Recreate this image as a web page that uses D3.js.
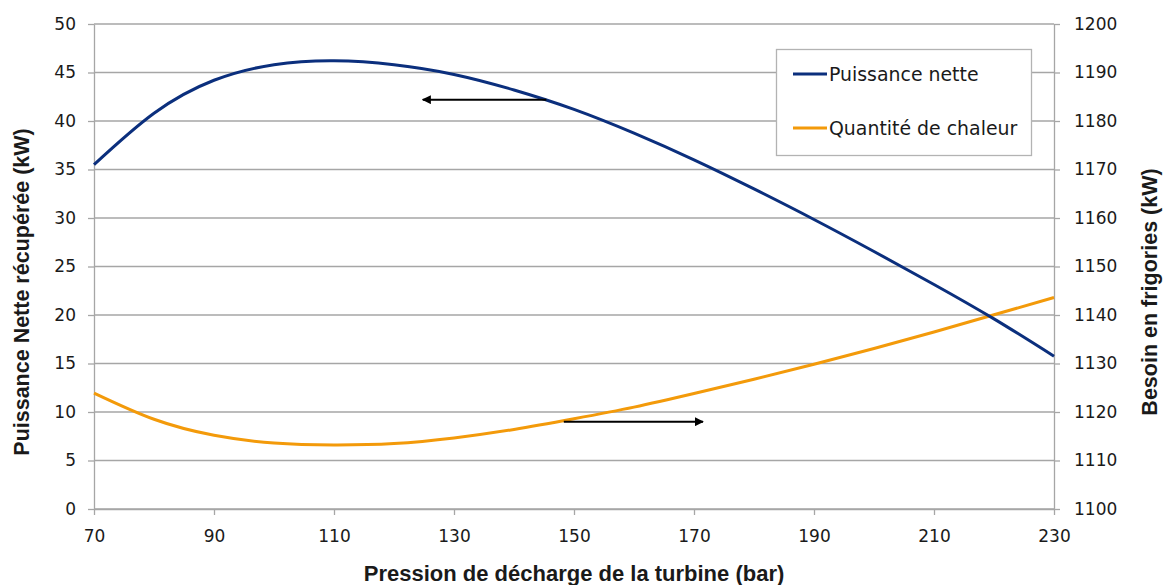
<!DOCTYPE html>
<html><head><meta charset="utf-8">
<script src="https://cdn.jsdelivr.net/npm/d3@7"></script>
<style>body{margin:0;background:#fff}svg{display:block}</style>
</head><body>
<svg id="c" width="1168" height="585"></svg>
<script>
const pressure = [70,80,90,100,110,120,130,140,150,160,170,180,190,200,210,220,230];
const puissanceNette = [35.5,40.8,44.2,45.8,46.2,45.8,44.8,43.2,41.2,38.75,36.0,33.0,29.85,26.55,23.15,19.6,15.75];
const quantiteChaleur = [1123.9,1118.5,1115.2,1113.6,1113.2,1113.5,1114.65,1116.4,1118.6,1121.0,1123.8,1126.75,1129.85,1133.1,1136.5,1140.05,1143.6];
const xTicks = [70,90,110,130,150,170,190,210,230];
const leftTicks = [0,5,10,15,20,25,30,35,40,45,50];
const rightTicks = [1100,1110,1120,1130,1140,1150,1160,1170,1180,1190,1200];
const seriesNames = ["Puissance nette","Quantité de chaleur"];
const colors = ["#0b2f7d","#f39a0a"];
const xTitle = "Pression de décharge de la turbine (bar)";
const yLeftTitle = "Puissance Nette récupérée (kW)";
const yRightTitle = "Besoin en frigories (kW)";

const svg = d3.select("#c");
const m = {l:94, r:1054, t:24, b:509};
const x = d3.scaleLinear().domain([70,230]).range([m.l,m.r]);
const yL = d3.scaleLinear().domain([0,50]).range([m.b,m.t]);
const yR = d3.scaleLinear().domain([1100,1200]).range([m.b,m.t]);
const gridCol = "#a6a6a6";
const font = "DejaVu Sans, sans-serif";
const tfont = "Liberation Sans, Arial, sans-serif";

// grid
svg.append("g").selectAll("line").data(leftTicks).join("line")
  .attr("x1",m.l).attr("x2",m.r).attr("y1",d=>yL(d)).attr("y2",d=>yL(d))
  .attr("stroke",gridCol).attr("stroke-width",1.3);

function styleAxis(g){
  g.selectAll(".domain").attr("stroke",gridCol).attr("stroke-width",1.3);
  g.selectAll(".tick line").attr("stroke",gridCol).attr("stroke-width",1.3);
  g.selectAll("text").attr("font-family",font).attr("font-size",17).attr("fill","#1a1a1a");
}
const ax = svg.append("g").attr("transform",`translate(0,${m.b})`)
  .call(d3.axisBottom(x).tickValues(xTicks).tickFormat(d3.format("d")).tickSize(6).tickSizeOuter(0).tickPadding(15));
styleAxis(ax);
const al = svg.append("g").attr("transform",`translate(${m.l},0)`)
  .call(d3.axisLeft(yL).tickValues(leftTicks).tickFormat(d3.format("d")).tickSize(6).tickSizeOuter(0).tickPadding(12));
styleAxis(al);
const ar = svg.append("g").attr("transform",`translate(${m.r},0)`)
  .call(d3.axisRight(yR).tickValues(rightTicks).tickFormat(d3.format("d")).tickSize(6).tickSizeOuter(0).tickPadding(14));
styleAxis(ar);

// lines
const lineL = d3.line().x((d,i)=>x(pressure[i])).y(d=>yL(d)).curve(d3.curveNatural);
const lineR = d3.line().x((d,i)=>x(pressure[i])).y(d=>yR(d)).curve(d3.curveNatural);
svg.append("path").attr("d",lineR(quantiteChaleur)).attr("fill","none").attr("stroke",colors[1]).attr("stroke-width",3);
svg.append("path").attr("d",lineL(puissanceNette)).attr("fill","none").attr("stroke",colors[0]).attr("stroke-width",3);

// arrows
const defs = svg.append("defs");
defs.append("marker").attr("id","ah").attr("viewBox","0 0 10 10").attr("refX",9).attr("refY",5)
  .attr("markerWidth",4.5).attr("markerHeight",4.5).attr("orient","auto")
  .append("path").attr("d","M0,0L10,5L0,10z").attr("fill","#000");
svg.append("line").attr("x1",x(145.4)).attr("x2",x(124.8)).attr("y1",yL(42.2)).attr("y2",yL(42.2))
  .attr("stroke","#000").attr("stroke-width",2).attr("marker-end","url(#ah)");
svg.append("line").attr("x1",x(148.3)).attr("x2",x(171.5)).attr("y1",yR(1118.0)).attr("y2",yR(1118.0))
  .attr("stroke","#000").attr("stroke-width",2).attr("marker-end","url(#ah)");

// legend
const lg = svg.append("g");
lg.append("rect").attr("x",776.5).attr("y",49.5).attr("width",255).attr("height",106)
  .attr("fill","#fff").attr("stroke","#b3b3b3").attr("stroke-width",1.3);
seriesNames.forEach((n,i)=>{
  const yy = 74 + i*54;
  lg.append("line").attr("x1",793).attr("x2",827).attr("y1",yy).attr("y2",yy)
    .attr("stroke",colors[i]).attr("stroke-width",3);
  lg.append("text").attr("x",829).attr("y",yy).attr("dy","0.35em")
    .attr("font-family",font).attr("font-size",18.9).attr("fill","#1a1a1a").text(n);
});

// titles
svg.append("text").attr("x",(m.l+m.r)/2).attr("y",581).attr("text-anchor","middle")
  .attr("font-family",tfont).attr("font-weight","bold").attr("font-size",22)
  .attr("fill","#1a1a1a").text(xTitle);
svg.append("text").attr("transform","translate(29,292) rotate(-90)").attr("text-anchor","middle")
  .attr("font-family",tfont).attr("font-weight","bold").attr("font-size",21.5)
  .attr("fill","#1a1a1a").text(yLeftTitle);
svg.append("text").attr("transform","translate(1157,292) rotate(-90)").attr("text-anchor","middle")
  .attr("font-family",tfont).attr("font-weight","bold").attr("font-size",21.5)
  .attr("fill","#1a1a1a").text(yRightTitle);
</script>
</body></html>
